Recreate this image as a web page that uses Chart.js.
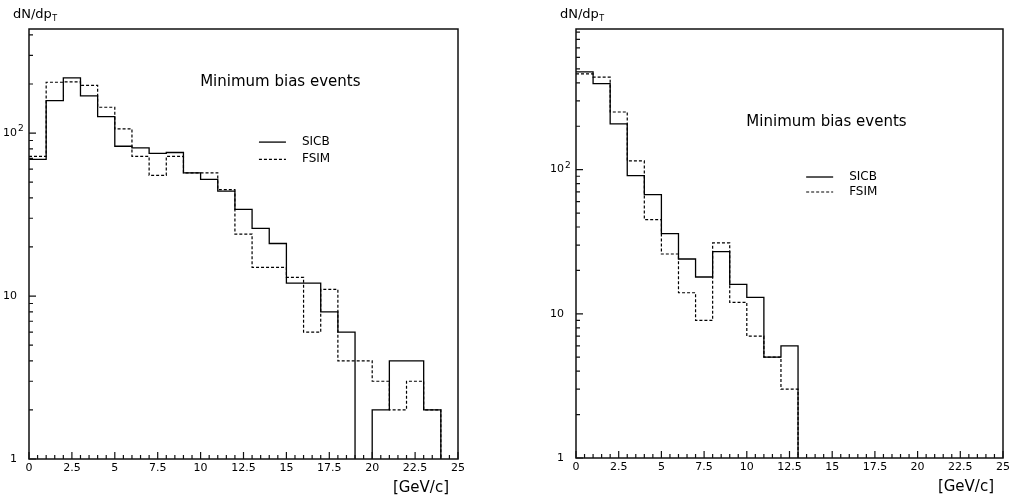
<!DOCTYPE html>
<html lang="en">
<head>
  <meta charset="UTF-8">
  <title>dN/dpT - Minimum bias events</title>
  <script src="https://cdn.jsdelivr.net/npm/chart.js"></script>
  <style>
    body { margin: 0; background: #fff; }
    #wrap { position: relative; width: 1013px; height: 501px; }
    #left { position: absolute; left: 0; top: 0; }
    #right { position: absolute; left: 506px; top: 0; }
  </style>
</head>
<body>
  <div id="wrap">
    <canvas id="left" width="506" height="501"></canvas>
    <canvas id="right" width="507" height="501"></canvas>
  </div>

  <script>
    // bin edges in GeV/c, one bin per GeV
    const binEdges = [0, 1, 2, 3, 4, 5, 6, 7, 8, 9, 10, 11, 12, 13, 14, 15, 16, 17, 18, 19, 20, 21, 22, 23, 24, 25];
    const xTickStep = 2.5;
    const yTicks = [1, 10, 100];

    // left panel
    const leftSicb = [69, 158, 218, 169, 126, 83, 81, 75, 76, 57, 52, 44, 34, 26, 21, 12, 12, 8, 6, 0, 2, 4, 4, 2, 0];
    const leftFsim = [72, 205, 206, 196, 144, 106, 72, 55, 72, 57, 57, 45, 24, 15, 15, 13, 6, 11, 4, 4, 3, 2, 3, 2, 0];

    // right panel
    const rightSicb = [477, 395, 208, 91, 67, 36, 24, 18, 27, 16, 13, 5, 6, 0, 0, 0, 0, 0, 0, 0, 0, 0, 0, 0, 0];
    const rightFsim = [462, 438, 251, 115, 45, 26, 14, 9, 31, 12, 7, 5, 3, 0, 0, 0, 0, 0, 0, 0, 0, 0, 0, 0, 0];

    const seriesNames = ['SICB', 'FSIM'];
    const noteText = 'Minimum bias events';

    Chart.defaults.font.family = "'DejaVu Sans', sans-serif";
    Chart.defaults.color = '#000';

    // empty bins can't sit on a log axis, push them below the frame (clipped)
    const FLOOR = 0.01;

    // histogram as step line ('before'): one point per left edge + closing point at last edge
    function histPoints(values) {
      const pts = values.map((v, i) => ({ x: binEdges[i], y: v > 0 ? v : FLOOR }));
      const last = values[values.length - 1];
      pts.push({ x: binEdges[binEdges.length - 1], y: last > 0 ? last : FLOOR });
      return pts;
    }

    // frame, inward ticks, y labels, title, note and legend
    const hbookFrame = {
      id: 'hbookFrame',
      afterDraw(chart, args, opts) {
        const { ctx, chartArea: a, scales: { x, y } } = chart;
        const w = a.right - a.left, h = a.bottom - a.top;
        ctx.save();
        ctx.strokeStyle = '#111';
        ctx.lineWidth = 1.5;
        ctx.strokeRect(a.left, a.top, w, h);

        // tick marks pointing into the plot
        ctx.lineWidth = 1.2;
        ctx.beginPath();
        for (let i = 0; i <= x.max * 2; i++) {
          const px = x.getPixelForValue(i / 2);
          const len = i % 5 === 0 ? 7 : 4;
          ctx.moveTo(px, a.bottom);
          ctx.lineTo(px, a.bottom - len);
        }
        for (let d = 1; d <= y.max; d *= 10) {
          for (let m = 1; m <= 9; m++) {
            const v = m * d;
            if (v > y.max) break;
            const py = y.getPixelForValue(v);
            ctx.moveTo(a.left, py);
            ctx.lineTo(a.left + (m === 1 ? 7 : 4), py);
          }
        }
        ctx.stroke();

        // y labels: 1, 10, 10^2 with the exponent hanging right
        ctx.fillStyle = '#000';
        ctx.textBaseline = 'middle';
        yTicks.forEach(v => {
          const py = y.getPixelForValue(v);
          const e = Math.round(Math.log10(v));
          ctx.font = "11px 'DejaVu Sans'";
          ctx.textAlign = 'right';
          if (e < 2) {
            ctx.fillText(String(v), a.left - 12, py);
          } else {
            ctx.fillText('10', a.left - 12, py);
            ctx.textAlign = 'left';
            ctx.font = "9px 'DejaVu Sans'";
            ctx.fillText(String(e), a.left - 11, py - 4);
          }
        });

        // axis titles
        ctx.textAlign = 'left';
        ctx.font = "13px 'DejaVu Sans'";
        ctx.fillText('dN/dp', a.left - 16, 15);
        const tw = ctx.measureText('dN/dp').width;
        ctx.font = "8px 'DejaVu Sans'";
        ctx.fillText('T', a.left - 16 + tw + 0.5, 19);
        ctx.font = "15px 'DejaVu Sans'";
        ctx.textAlign = 'right';
        ctx.fillText('[GeV/c]', a.right - 9, a.bottom + 29);

        // note
        ctx.textAlign = 'left';
        ctx.font = "15px 'DejaVu Sans'";
        ctx.fillText(noteText, a.left + opts.noteX * w, a.top + opts.noteY * h);

        // legend
        ctx.font = "12px 'DejaVu Sans'";
        chart.data.datasets.forEach((ds, i) => {
          const lx = a.left + opts.legX * w;
          const ly = a.top + (opts.legY + i * opts.legGap) * h;
          ctx.strokeStyle = ds.borderColor;
          ctx.lineWidth = ds.borderWidth;
          ctx.setLineDash(ds.borderDash || []);
          ctx.beginPath();
          ctx.moveTo(lx, ly);
          ctx.lineTo(lx + 27, ly);
          ctx.stroke();
          ctx.setLineDash([]);
          ctx.fillText(ds.label, lx + 43, ly);
        });
        ctx.restore();
      }
    };

    function makeChart(id, sicb, fsim, cfg) {
      return new Chart(document.getElementById(id), {
        type: 'line',
        data: {
          datasets: [
            { label: seriesNames[0], data: histPoints(sicb), stepped: 'before',
              borderColor: '#000', borderWidth: 1.3, pointRadius: 0, fill: false },
            { label: seriesNames[1], data: histPoints(fsim), stepped: 'before',
              borderColor: '#000', borderWidth: 1.2, borderDash: [3, 2], pointRadius: 0, fill: false }
          ]
        },
        options: {
          responsive: false,
          animation: false,
          layout: { padding: { top: 29, right: cfg.padRight, bottom: 0, left: 0 } },
          plugins: {
            legend: { display: false },
            tooltip: { enabled: false },
            hbookFrame: cfg.frame
          },
          scales: {
            x: {
              type: 'linear', min: 0, max: 25,
              grid: { display: false, drawTicks: false },
              border: { display: false },
              ticks: { stepSize: xTickStep, padding: 3, font: { size: 11 }, maxRotation: 0,
                       callback: v => String(v) },
              afterFit: s => { s.height = cfg.xHeight; }
            },
            y: {
              type: 'logarithmic', min: 1, max: cfg.yMax,
              grid: { display: false, drawTicks: false },
              border: { display: false },
              ticks: { display: false },
              afterFit: s => { s.width = cfg.yWidth; }
            }
          }
        },
        plugins: [hbookFrame]
      });
    }

    makeChart('left', leftSicb, leftFsim, {
      padRight: 48, xHeight: 42, yWidth: 29, yMax: 435,
      frame: { noteX: 0.399, noteY: 0.123, legX: 0.536, legY: 0.263, legGap: 0.04 }
    });

    makeChart('right', rightSicb, rightFsim, {
      padRight: 8, xHeight: 43, yWidth: 70, yMax: 945,
      frame: { noteX: 0.399, noteY: 0.216, legX: 0.539, legY: 0.345, legGap: 0.035 }
    });
  </script>
</body>
</html>
